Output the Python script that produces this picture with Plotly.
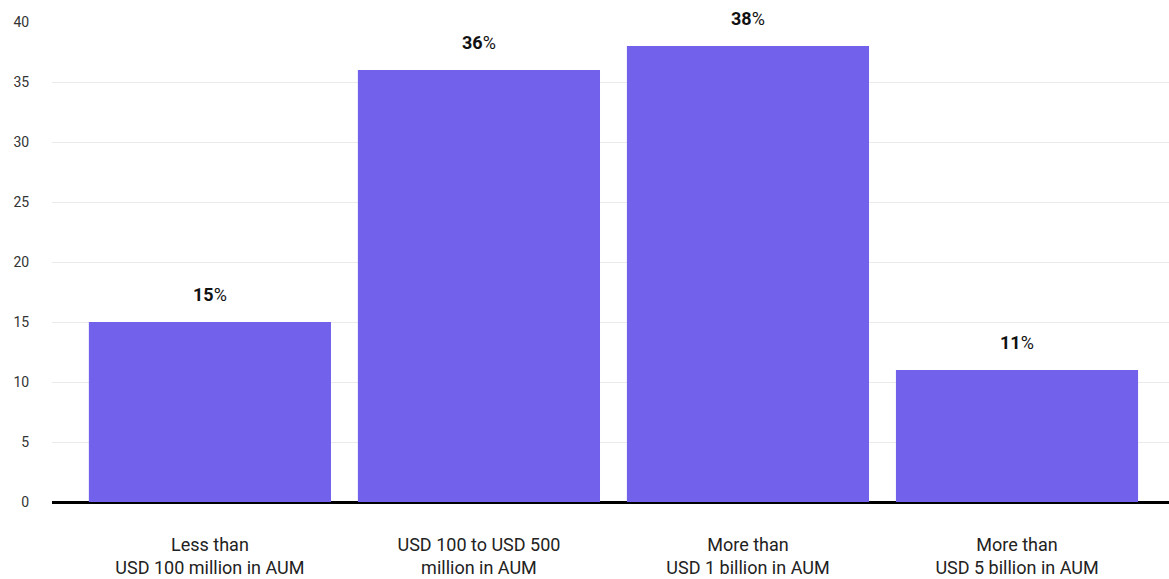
import plotly.graph_objects as go

categories = ["Less than<br>USD 100 million in AUM",
              "USD 100 to USD 500<br>million in AUM",
              "More than<br>USD 1 billion in AUM",
              "More than<br>USD 5 billion in AUM"]
values = [15, 36, 38, 11]
labels = ["<b>15</b>%", "<b>36</b>%", "<b>38</b>%", "<b>11</b>%"]

FONT = "Roboto"

fig = go.Figure()
fig.add_trace(go.Bar(x=categories, y=values, marker_color="#7161EB",
                     marker_line_width=0, hoverinfo="skip"))

for c, v, t in zip(categories, values, labels):
    fig.add_annotation(x=c, y=v, text=t, showarrow=False, yanchor="bottom",
                       yshift=15, font=dict(family=FONT, size=18, color="#111111"))

fig.update_layout(
    width=1169, height=579,
    margin=dict(l=52, r=0, t=22, b=77),
    paper_bgcolor="white", plot_bgcolor="white",
    bargap=0.1,
    showlegend=False,
    font=dict(family=FONT, color="#222222"),
)
fig.update_xaxes(range=[-0.587, 3.565], showgrid=False, automargin=False,
                 ticks="outside", ticklen=26, tickcolor="rgba(0,0,0,0)",
                 tickfont=dict(size=18, color="#222222", family=FONT),
                 showline=False)
fig.update_yaxes(range=[0, 40], dtick=5, showgrid=True, gridcolor="#ebebeb",
                 gridwidth=1, zeroline=True, zerolinecolor="#000000", zerolinewidth=2.5,
                 ticks="outside", ticklen=19, tickcolor="rgba(0,0,0,0)", automargin=False,
                 tickfont=dict(size=14, color="#333333", family=FONT),
                 showline=False)

fig.write_html("out.html")
